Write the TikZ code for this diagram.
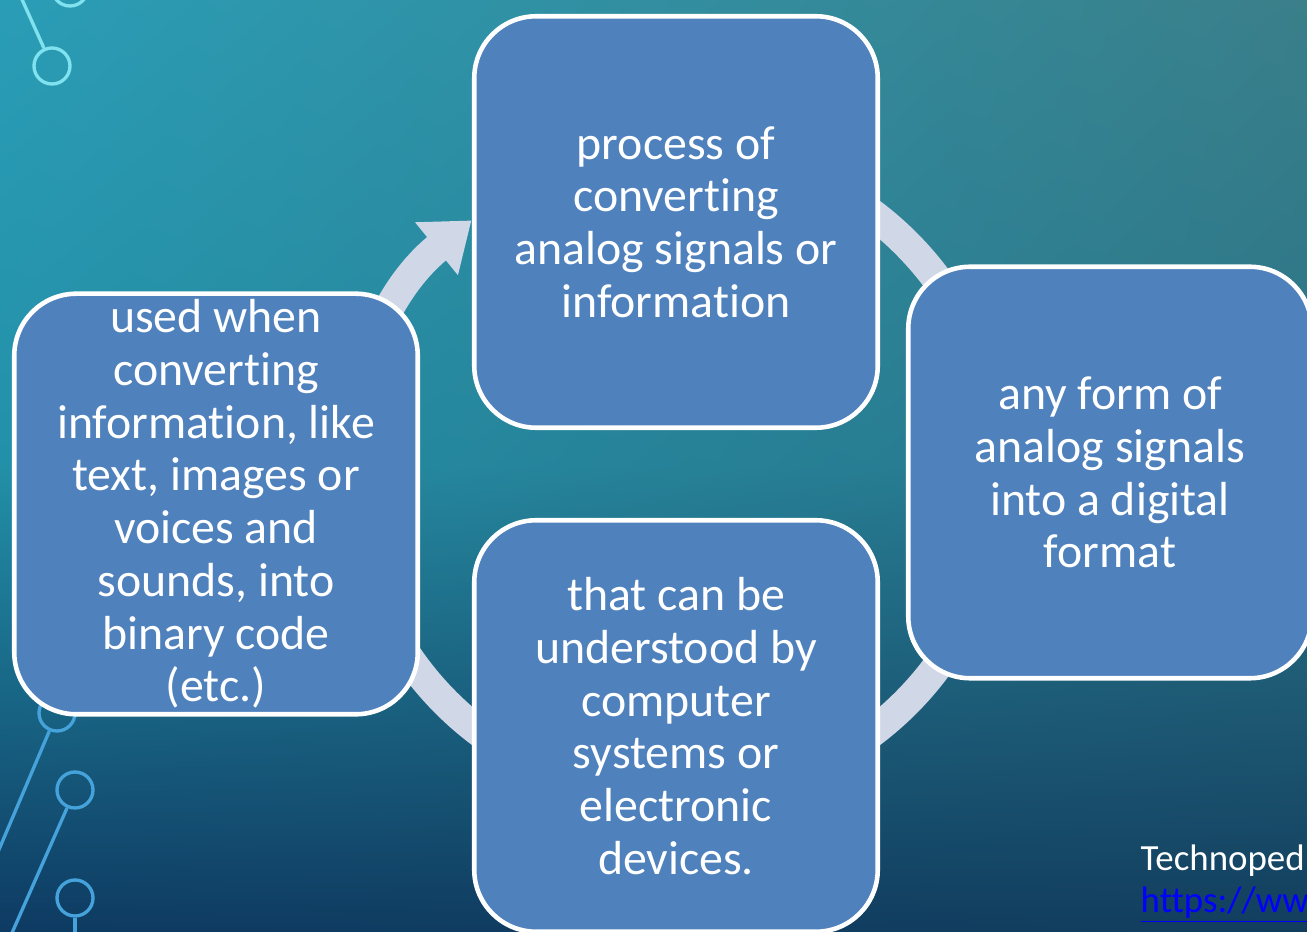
\documentclass[tikz,border=0pt]{standalone}
\usepackage{xcolor}
\usepackage{fontspec}
\setmainfont{Carlito}[Ligatures={NoCommon,NoContextual}]
\usepackage{tikz}
\usetikzlibrary{arrows,arrows.meta,shadings}
\usetikzlibrary{positioning}

\definecolor{boxblue}{HTML}{4F81BD}
\definecolor{ringgray}{HTML}{D0D8E8}
\definecolor{bgtl}{HTML}{2A9DB6}
\definecolor{bgtr}{HTML}{3A7F8A}
\definecolor{bgml}{HTML}{2290A8}
\definecolor{bgmr}{HTML}{2A7488}
\definecolor{bgbl}{HTML}{0E3A62}
\definecolor{bgbr}{HTML}{123E5E}
\definecolor{wirecyan}{HTML}{80E2EE}
\definecolor{wireblue}{HTML}{45A2DA}
\definecolor{linkblue}{HTML}{0000FF}

\begin{document}
\begin{tikzpicture}[thick,
  cycle box/.style={rectangle,rounded corners=1.24cm,draw=white,line width=2.6pt,
  fill=boxblue,text=white,align=center,minimum width=8.07cm,minimum height=8.23cm,
  font=\fontsize{27.2}{30}\selectfont},
  wire node/.style={circle,draw,line width=1.9pt,minimum size=0.72cm,inner sep=0pt},
  wire/.style={line width=1.9pt},
  source text/.style={anchor=base west,inner sep=0pt,font=\fontsize{21}{24}\selectfont}]

  \useasboundingbox (0,0) rectangle (26.14,18.64);
  \clip (0,0) rectangle (26.14,18.64);
  \shade[upper left=bgtl,upper right=bgtr,lower left=bgml,lower right=bgmr]
    (0,9.32) rectangle (26.14,18.64);
  \shade[upper left=bgml,upper right=bgmr,lower left=bgbl,lower right=bgbr]
    (0,0) rectangle (26.14,9.32);

  \node[wire node,draw=wirecyan] (w0) at (1.40,18.88) {};
  \node[wire node,draw=wirecyan] (w1) at (1.04,17.32) {};
  \coordinate (w1end) at (0.40,18.74);
  \node[wire node,draw=wireblue] (b1) at (1.14,4.38) {};
  \node[wire node,draw=wireblue] (b2) at (1.50,2.84) {};
  \node[wire node,draw=wireblue] (b3) at (1.50,0.68) {};
  \coordinate (b1end) at (-0.10,1.46);
  \coordinate (b2end) at (0.16,-0.20);
  \coordinate (b3end) at (1.50,-0.20);

  \path[wire]
    (w1end) edge[wirecyan] (w1)
    (b1) edge[wireblue] (b1end)
    (b2) edge[wireblue] (b2end)
    (b3) edge[wireblue] (b3end);

  \coordinate (hub) at (13.52,9.18);
  \draw[ringgray,line width=0.6cm,-{Triangle[width=1.3cm,length=0.9cm]}]
    ([shift={(110:6.5)}]hub) arc[start angle=110,end angle=-231,radius=6.5];

  \node[cycle box] (process) at (13.52,14.20)
    {process of\\converting\\analog signals or\\information};
  \node[cycle box] (format) at (22.20,9.19)
    {any form of\\analog signals\\into a digital\\format};
  \node[cycle box] (devices) at (13.52,4.12)
    {that can be\\understood by\\computer\\systems or\\electronic\\devices.};
  \node[cycle box] (binary) at (4.32,8.56)
    {used when\\converting\\information, like\\text, images or\\voices and\\sounds, into\\binary code\\(etc.)};

  \node[source text,text=white] (source) at (22.80,1.22) {Technoped};
  \node[source text,text=linkblue] (link) at (22.80,0.38) {\underline{https://ww}};

\end{tikzpicture}
\end{document}
